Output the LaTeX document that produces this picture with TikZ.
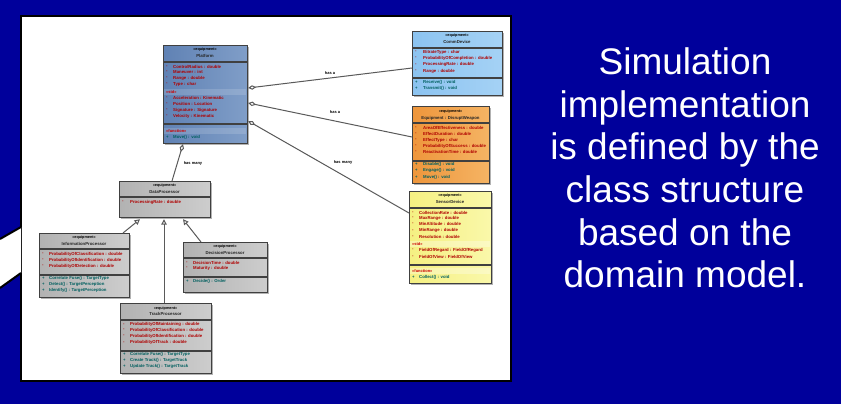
\documentclass[tikz,border=0pt]{standalone}
\usepackage{fontspec}
\setmainfont{Liberation Sans}
\usetikzlibrary{calc,arrows.meta}

\definecolor{slidebg}{RGB}{0,0,155}
\definecolor{platA}{RGB}{96,130,180}
\definecolor{platB}{RGB}{128,158,200}
\definecolor{commA}{RGB}{140,195,240}
\definecolor{commB}{RGB}{165,210,245}
\definecolor{weapA}{RGB}{238,150,60}
\definecolor{weapB}{RGB}{245,180,100}
\definecolor{sensA}{RGB}{245,240,130}
\definecolor{sensB}{RGB}{250,248,170}
\definecolor{procA}{RGB}{178,178,178}
\definecolor{procB}{RGB}{205,205,205}
\definecolor{attrred}{RGB}{175,0,0}
\definecolor{opteal}{RGB}{0,95,95}
\definecolor{linkgray}{RGB}{90,90,90}

\tikzset{
  classbox/.style={draw=black!75, line width=1.2pt, anchor=north west, inner sep=0pt},
  divider/.style={draw=black!75, line width=1.1pt},
  shadowbox/.style={fill=black!30},
  stereo/.style={font=\fontsize{3.8}{4}\selectfont\bfseries, inner sep=0pt, text=black},
  cname/.style={font=\fontsize{4.3}{5}\selectfont\bfseries, inner sep=0pt, text=black!85},
  attr/.style={font=\fontsize{4.3}{5}\selectfont\bfseries, inner sep=0pt, anchor=west, text=attrred},
  oper/.style={font=\fontsize{4.3}{5}\selectfont\bfseries, inner sep=0pt, anchor=west, text=opteal},
  sect/.style={font=\fontsize{4}{4}\selectfont\bfseries, inner sep=0pt, anchor=west, text=red!80!black},
  linklabel/.style={font=\fontsize{4}{4}\selectfont\bfseries, inner sep=0pt, text=black},
  agg/.style={draw=linkgray, line width=1pt, {Diamond[open, length=8pt, width=4.5pt]}-},
  inherit/.style={draw=linkgray, line width=1pt, -{Triangle[open, length=5.5pt, width=5.5pt]}},
  bullet/.style={font=\fontsize{4.3}{4}\selectfont\bfseries, inner sep=0pt, anchor=west},
  slidetext/.style={text=white, font=\fontsize{37}{42.6}\selectfont, align=center}
}

% one class box: name, corners, shading colours
\newcommand\umlbox[7]{%
  \fill[shadowbox] (#2+2,#3+2) rectangle (#4+2,#5+2);
  \node[classbox, left color=#6, right color=#7, minimum width=#4pt-#2pt, minimum height=#5pt-#3pt] (#1) at (#2,#3) {};
}
\newcommand\hsep[3]{\draw[divider] (#1,#3) -- (#2,#3);}
\newcommand\arow[4]{\node[bullet, text=attrred] at (#1,#3) {-}; \node[attr] at (#2,#3) {#4};}
\newcommand\orow[4]{\node[bullet, text=opteal] at (#1,#3) {+}; \node[oper] at (#2,#3) {#4};}

\begin{document}
\begin{tikzpicture}[x=1pt,y=-1pt]
\useasboundingbox (0,0) rectangle (841,404);
\fill[slidebg] (0,0) rectangle (841,404);

% white panel
\fill[white] (21,16) rectangle (511,381);
\draw[black, line width=2.6pt] (21,16) rectangle (511,381);

% callout pointer entering from the left
\fill[white] (0,239) -- (21,227) -- (21,273) -- (0,288) -- cycle;
\draw[black, line width=2pt] (0,239) -- (21,227);
\draw[black, line width=2pt] (0,288) -- (21,273);

% ---------- Platform ----------
\umlbox{plat}{163}{45}{247}{143}{platA}{platB}
\node[stereo] at (205,50) {«equipment»};
\node[cname] at (205,56) {Platform};
\hsep{163}{247}{62}
\arow{166}{173}{66.5}{ControlRadius : double}
\arow{166}{173}{72}{Maneuver : int}
\arow{166}{173}{78}{Range : double}
\arow{166}{173}{84}{Type : char}
\fill[white, opacity=0.15] (164,89) rectangle (246,95);
\node[sect] at (166,92) {«std»};
\arow{166}{173}{98}{Acceleration : Kinematic}
\arow{166}{173}{104}{Position : Location}
\arow{166}{173}{110}{Signature : Signature}
\arow{166}{173}{116}{Velocity : Kinematic}
\hsep{163}{247}{124}
\fill[white, opacity=0.15] (164,128) rectangle (246,134);
\node[sect] at (166,131) {«function»};
\orow{166}{173}{137}{Move() : void}

% ---------- CommDevice ----------
\umlbox{comm}{412}{31}{502}{95}{commA}{commB}
\node[stereo] at (457,36) {«equipment»};
\node[cname] at (457,41.5) {CommDevice};
\hsep{412}{502}{48}
\arow{415}{423}{52}{BitrateType : char}
\arow{415}{423}{58}{ProbabilityOfCompletion : double}
\arow{415}{423}{64.5}{ProcessingRate : double}
\arow{415}{423}{71}{Range : double}
\hsep{412}{502}{78}
\orow{415}{423}{82}{Receive() : void}
\orow{415}{423}{88.7}{Transmit() : void}

% ---------- Disrupt weapon ----------
\umlbox{weap}{412}{106}{489}{183}{weapA}{weapB}
\node[stereo] at (450.5,112) {«equipment»};
\node[cname] at (450.5,118) {Equipment : DisruptWeapon};
\hsep{412}{489}{123}
\arow{415}{423}{128}{AreaOfEffectiveness : double}
\arow{415}{423}{134}{EffectDuration : double}
\arow{415}{423}{140}{EffectType : char}
\arow{415}{423}{146}{ProbabilityOfSuccess : double}
\arow{415}{423}{152}{ReactivationTime : double}
\hsep{412}{489}{161}
\orow{415}{423}{164.5}{Disable() : void}
\orow{415}{423}{170.5}{Engage() : void}
\orow{415}{423}{177}{Move() : void}

% ---------- SensorDevice ----------
\umlbox{sens}{409}{191}{491}{283}{sensA}{sensB}
\node[stereo] at (450,196) {«equipment»};
\node[cname] at (450,202) {SensorDevice};
\hsep{409}{491}{208}
\arow{412}{419}{212.5}{CollectionRate : double}
\arow{412}{419}{218.3}{MaxRange : double}
\arow{412}{419}{224.3}{MinAltitude : double}
\arow{412}{419}{230.7}{MinRange : double}
\arow{412}{419}{236.7}{Resolution : double}
\fill[white, opacity=0.3] (410,241) rectangle (490,247);
\node[sect] at (412,244) {«std»};
\arow{412}{419}{250.3}{FieldOfRegard : FieldOfRegard}
\arow{412}{419}{256.7}{FieldOfView : FieldOfView}
\hsep{409}{491}{265}
\fill[white, opacity=0.3] (410,268) rectangle (490,274);
\node[sect] at (412,270.7) {«function»};
\orow{412}{419}{277}{Collect() : void}

% ---------- DataProcessor ----------
\umlbox{data}{119}{181}{210}{217}{procA}{procB}
\node[stereo] at (164.5,186) {«equipment»};
\node[cname] at (164.5,191.7) {DataProcessor};
\hsep{119}{210}{197}
\arow{122}{130}{202}{ProcessingRate : double}

% ---------- InformationProcessor ----------
\umlbox{info}{39}{233}{129}{297}{procA}{procB}
\node[stereo] at (84,237.7) {«equipment»};
\node[cname] at (84,243.7) {InformationProcessor};
\hsep{39}{129}{249}
\arow{42}{49}{254}{ProbabilityOfClassification : double}
\arow{42}{49}{260}{ProbabilityOfIdentification : double}
\arow{42}{49}{266}{ProbabilityOfDetection : double}
\hsep{39}{129}{275}
\orow{42}{49}{278.3}{Correlate Fuse() : TargetType}
\orow{42}{49}{284.3}{Detect() : TargetPerception}
\orow{42}{49}{290.3}{Identify() : TargetPerception}

% ---------- DecisionProcessor ----------
\umlbox{deci}{183}{242}{267}{292}{procA}{procB}
\node[stereo] at (225,247) {«equipment»};
\node[cname] at (225,252.7) {DecisionProcessor};
\hsep{183}{267}{258}
\arow{186}{193}{263}{DecisionTime : double}
\arow{186}{193}{268.3}{Maturity : double}
\hsep{183}{267}{277}
\orow{186}{193}{281}{Decide() : Order}

% ---------- TrackProcessor ----------
\umlbox{track}{120}{303}{211}{373}{procA}{procB}
\node[stereo] at (165.5,308.3) {«equipment»};
\node[cname] at (165.5,314.3) {TrackProcessor};
\hsep{120}{211}{320}
\arow{123}{130}{324.7}{ProbabilityOfMaintaining : double}
\arow{123}{130}{330.3}{ProbabilityOfClassification : double}
\arow{123}{130}{336.3}{ProbabilityOfIdentification : double}
\arow{123}{130}{342.7}{ProbabilityOfTrack : double}
\hsep{120}{211}{351}
\orow{123}{130}{354.7}{Correlate Fuse() : TargetType}
\orow{123}{130}{360.7}{Create Track() : TargetTrack}
\orow{123}{130}{366.7}{Update Track() : TargetTrack}

% ---------- associations ----------
\draw[agg] ($(plat.north east)+(0,43)$) -- ($(comm.north west)+(0,37)$);
\draw[agg] ($(plat.north east)+(0,58)$) -- ($(weap.north west)+(0,31)$);
\draw[agg] ($(plat.north east)+(0,76)$) -- ($(sens.north west)+(0,22)$);
\draw[agg] ($(plat.south west)+(20,0)$) -- ($(data.north west)+(53,0)$);

\node[linklabel] (l1) at (330,73) {has a};
\node[linklabel] (l2) at (335,112) {has a};
\node[linklabel] (l3) at (343,162) {has many};
\node[linklabel] (l4) at (193,163.5) {has many};

% ---------- generalisations ----------
\draw[inherit] ($(info.north west)+(84,0)$) -- ($(data.south west)+(21,1)$);
\draw[inherit] ($(track.north west)+(44,0)$) -- ($(data.south west)+(45,1)$);
\draw[inherit] ($(deci.north west)+(18,0)$) -- ($(data.south west)+(64,1)$);

% ---------- slide text ----------
\node[slidetext] (caption) at (685,168) {Simulation\\implementation\\is defined by the\\class structure\\based on the\\domain model.};
\end{tikzpicture}
\end{document}
